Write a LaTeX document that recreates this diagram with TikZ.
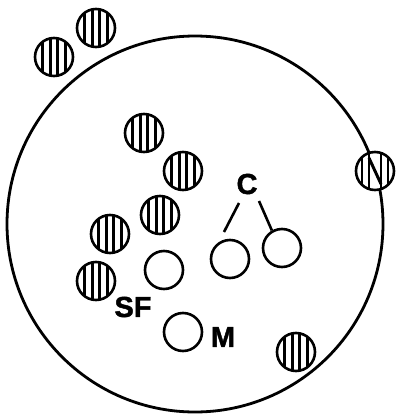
\documentclass[tikz,border=0pt]{standalone}
\usepackage{fontspec}
\setmainfont{Liberation Sans}
\newfontfamily\heavy[BoldFeatures={FakeBold=1.5}]{Liberation Sans}
\begin{document}
\begin{tikzpicture}[x=1pt,y=-1pt,
  ring/.style={circle,draw,line width=2.6pt,fill=white,minimum size=38pt,inner sep=0pt},
  hatched/.style={ring,path picture={
    \foreach \dx in {-11.5,-3.8,3.8,11.5}
      \draw[line width=2.8pt] ([xshift=\dx pt]path picture bounding box.north) -- ([xshift=\dx pt]path picture bounding box.south);}},
  nhatched/.style={ring,path picture={
    \foreach \dx in {-13,-6,6,13}
      \draw[line width=2.8pt] ([xshift=\dx pt]path picture bounding box.north) -- ([xshift=\dx pt]path picture bounding box.south);
    \draw[line width=3pt] ([xshift=-6pt,yshift=-6pt]path picture bounding box.north) -- ([xshift=6pt,yshift=6pt]path picture bounding box.south);}},
  lbl/.style={font=\heavy\fontsize{29}{29}\selectfont\bfseries,inner sep=0pt},
  conn/.style={line width=2.6pt}]
\useasboundingbox (0,0) rectangle (398,416);
\node[circle,draw,line width=2.8pt,minimum size=376pt,inner sep=0pt] (cell) at (195,224) {};
% hatched circles
\node[hatched] (h1) at (54,57) {};
\node[hatched] (h2) at (96,28) {};
\node[hatched] (h3) at (144,133) {};
\node[hatched] (h4) at (183,171) {};
\node[hatched] (h5) at (160,215) {};
\node[hatched] (h6) at (110,234) {};
\node[hatched] (h7) at (96,281) {};
\node[nhatched] (hN) at (375,171) {};
\node[hatched] (h9) at (296,352) {};
% open circles
\node[ring] (sf) at (164,270) {};
\node[ring] (m) at (183,332) {};
\node[ring] (c1) at (230,259) {};
\node[ring] (c2) at (282,248) {};
% labels
\node[lbl] (lC) at (247,184) {C};
\node[lbl] (lSF) at (133,307) {SF};
\node[lbl] (lM) at (223,337) {M};
% connectors
\coordinate (a1) at (239,203);
\coordinate (a2) at (224,232);
\coordinate (b1) at (259,201);
\draw[conn] (a1) -- (a2);
\draw[conn] (b1) -- (c2.120);
\end{tikzpicture}
\end{document}
